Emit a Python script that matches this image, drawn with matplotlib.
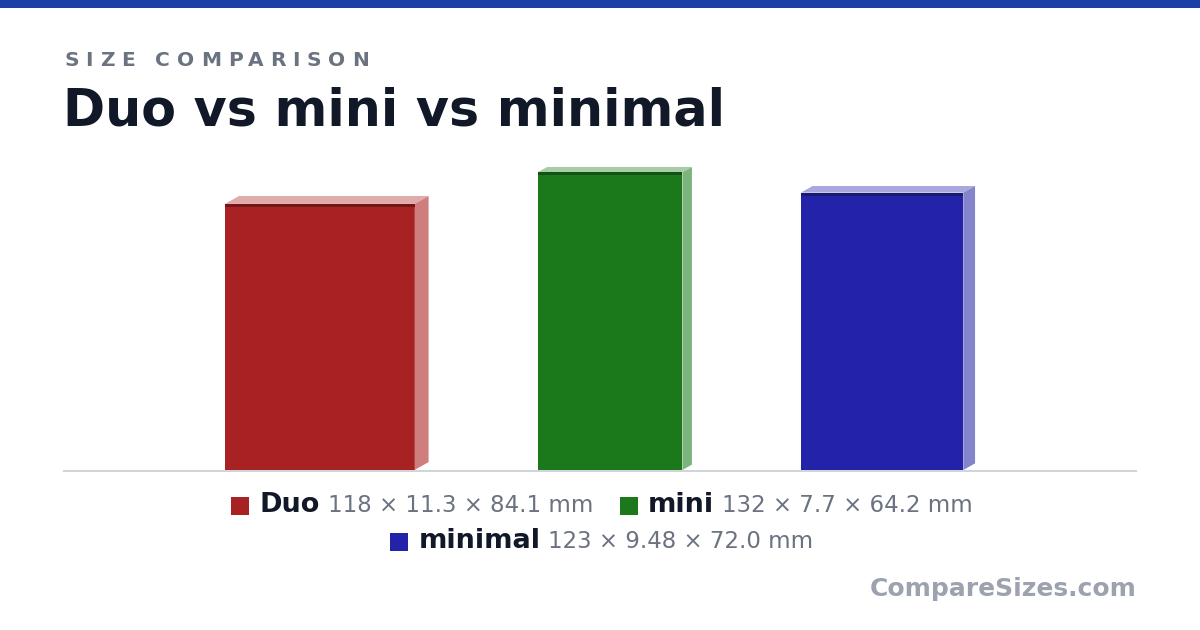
import matplotlib
matplotlib.use("Agg")
import matplotlib.pyplot as plt
from matplotlib.patches import Rectangle, Polygon

# phone sizes in mm: height x thickness x width
names = ["Duo", "mini", "minimal"]
heights = [118, 132, 123]
thick = [11.3, 7.7, 9.48]
widths = [84.1, 64.2, 72.0]
dims_labels = ["118 × 11.3 × 84.1 mm", "132 × 7.7 × 64.2 mm", "123 × 9.48 × 72.0 mm"]

front_cols = ["#a82224", "#1b781b", "#2323aa"]
top_cols = ["#e0abab", "#a8cca8", "#a8a8dc"]
side_cols = ["#cf7e7e", "#7cb57c", "#8484cc"]
edge_cols = ["#761517", "#135213", "#1a1a72"]

W, H = 1200, 630
fig = plt.figure(figsize=(12, 6.3), dpi=100)
fig.patch.set_facecolor("white")

# overlay axes in pixel units (y down)
ov = fig.add_axes([0, 0, 1, 1])
ov.set_xlim(0, W)
ov.set_ylim(H, 0)
ov.axis("off")

ov.add_patch(Rectangle((0, 0), W, 8, color="#1a40a8", lw=0))

# chart axes in mm
px_per_mm = 2.255
left_px, right_px, base_px, top_px = 64, 1136, 470, 150
ax = fig.add_axes([left_px / W, (H - base_px) / H, (right_px - left_px) / W, (base_px - top_px) / H])
ax.set_xlim(0, (right_px - left_px) / px_per_mm)
ax.set_ylim(0, (base_px - top_px) / px_per_mm)
ax.axis("off")

kx, ky = 0.55, 0.31
gap = 109 / px_per_mm
total = sum(widths) + sum(t * kx for t in thick) + gap * (len(names) - 1)
x = ((right_px - left_px) / px_per_mm - total) / 2
edge_h = 3 / px_per_mm
for i in range(len(names)):
    w, h, t = widths[i], heights[i], thick[i]
    dx, dy = t * kx, t * ky
    ax.add_patch(Rectangle((x, 0), w, h, color=front_cols[i], lw=0, zorder=2))
    ax.add_patch(Rectangle((x, h - edge_h), w, edge_h, color=edge_cols[i], lw=0, zorder=3))
    ax.add_patch(Polygon([(x, h), (x + dx, h + dy), (x + w + dx, h + dy), (x + w, h)],
                         closed=True, color=top_cols[i], lw=0, zorder=2))
    ax.add_patch(Polygon([(x + w, 0), (x + w + dx, dy), (x + w + dx, h + dy), (x + w, h)],
                         closed=True, color=side_cols[i], lw=0, zorder=2))
    x += w + dx + gap

ov.plot([left_px, right_px], [base_px + 0.5, base_px + 0.5], color="#d1d5db", lw=1.5, zorder=5)

fig.canvas.draw()
rend = fig.canvas.get_renderer()


def text_w(s, **kw):
    t = ov.text(0, 0, s, **kw)
    w = t.get_window_extent(rend).width
    t.remove()
    return w


# letter-spaced kicker
kicker = "SIZE COMPARISON"
kfont = dict(fontsize=14.5, fontweight="bold", color="#6b7280")
sp = 6.8
x0 = 64
for i, ch in enumerate(kicker):
    if ch == " ":
        continue
    pos = x0 + text_w(kicker[:i + 1], **kfont) - text_w(ch, **kfont) + i * sp
    ov.text(pos, 66, ch, ha="left", va="baseline", **kfont)

ov.text(63, 126, "Duo vs mini vs minimal", fontsize=36.5, fontweight="bold",
        color="#111827", ha="left", va="baseline")

# legend
name_font = dict(fontsize=19.5, fontweight="bold", color="#111827")
dim_font = dict(fontsize=16.5, color="#6b7280")
sq = 18
items = []
for i in range(len(names)):
    wn = text_w(names[i], **name_font)
    wd = text_w(dims_labels[i], **dim_font)
    items.append((i, wn, wd, sq + 10 + wn + 8 + wd))
rows, cur, cur_w = [], [], 0
item_gap = 27
for it in items:
    add = it[3] + (item_gap if cur else 0)
    if cur and cur_w + add > 800:
        rows.append(cur)
        cur, cur_w = [], 0
        add = it[3]
    cur.append(it)
    cur_w += add
rows.append(cur)

baselines = [512, 548]
for r, row in enumerate(rows):
    row_w = sum(it[3] for it in row) + item_gap * (len(row) - 1)
    xx = 602 - row_w / 2
    yb = baselines[r]
    for i, wn, wd, wt in row:
        ov.add_patch(Rectangle((xx, yb - 15), sq, sq, color=front_cols[i], lw=0))
        ov.text(xx + sq + 10, yb, names[i], ha="left", va="baseline", **name_font)
        ov.text(xx + sq + 10 + wn + 8, yb, dims_labels[i], ha="left", va="baseline", **dim_font)
        xx += wt + item_gap

ov.text(1137, 596, "CompareSizes.com", fontsize=18, fontweight="bold",
        color="#9ca3af", ha="right", va="baseline")

fig.savefig("out.png", dpi=100)
